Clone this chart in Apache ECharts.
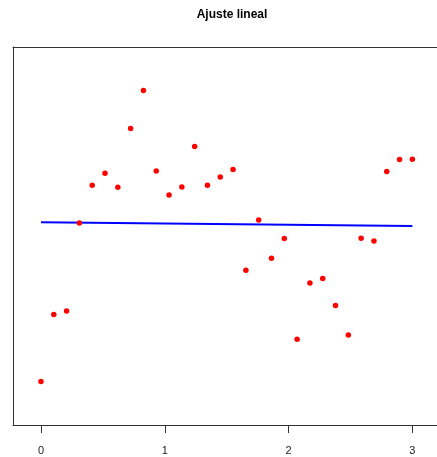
<!DOCTYPE html>
<html>
<head>
<meta charset="utf-8">
<script src="https://cdn.jsdelivr.net/npm/echarts@6/dist/echarts.min.js"></script>
<style>html,body{margin:0;padding:0;background:#fff}#c{width:437px;height:457px}</style>
</head>
<body>
<div id="c"></div>
<script>
const title = "Ajuste lineal";
const nPoints = 30;
const xStart = 0;
const xEnd = 3;
const yValues = [-1.456, -0.786, -0.750, 0.130, 0.507, 0.627, 0.487, 1.074, 1.454, 0.650,
                 0.410, 0.490, 0.894, 0.507, 0.590, 0.664, -0.343, 0.160, -0.223, -0.026,
                 -1.033, -0.470, -0.426, -0.696, -0.990, -0.023, -0.050, 0.644, 0.764, 0.767];
const xTicks = [0, 1, 2, 3];

// x = seq(0, 3, length = 30)
const xValues = yValues.map((_, i) => xStart + (xEnd - xStart) * i / (nPoints - 1));
const points = xValues.map((x, i) => [x, yValues[i]]);

// least-squares fit
const mx = xValues.reduce((a, b) => a + b, 0) / nPoints;
const my = yValues.reduce((a, b) => a + b, 0) / nPoints;
let sxy = 0, sxx = 0;
for (let i = 0; i < nPoints; i++) { sxy += (xValues[i] - mx) * (yValues[i] - my); sxx += (xValues[i] - mx) ** 2; }
const slope = sxy / sxx, intercept = my - slope * mx;
const fitLine = [[xStart, intercept + slope * xStart], [xEnd, intercept + slope * xEnd]];

const boxLine = {show: true, onZero: false, lineStyle: {color: '#333', width: 1}};

const chart = echarts.init(document.getElementById('c'), null, {renderer: 'canvas'});
chart.setOption({
  animation: false,
  backgroundColor: '#fff',
  title: {
    text: title, left: 227, top: 4, textAlign: 'center',
    textStyle: {fontFamily: 'Liberation Sans', fontSize: 12, fontWeight: 'bold', color: '#000'}
  },
  grid: {left: 13, top: 47, right: 0, bottom: 32, show: false},
  xAxis: [
    {
      type: 'value', position: 'bottom', min: -0.226, max: 3.199,
      axisLine: boxLine,
      splitLine: {show: false},
      axisTick: {show: true, customValues: xTicks, length: 8, lineStyle: {color: '#333', width: 1}},
      axisLabel: {show: true, customValues: xTicks, margin: 20, fontFamily: 'Liberation Sans', fontSize: 11, color: '#222',
        formatter: v => String(Math.round(v))}
    },
    {
      type: 'value', position: 'top', min: -0.226, max: 3.199,
      axisLine: boxLine, axisTick: {show: false}, axisLabel: {show: false}, splitLine: {show: false}
    }
  ],
  yAxis: {
    type: 'value', min: -1.89, max: 1.89, position: 'left',
    axisLine: boxLine, axisTick: {show: false}, axisLabel: {show: false}, splitLine: {show: false}
  },
  series: [
    {
      type: 'scatter', data: points, symbol: 'circle', symbolSize: 5.5,
      itemStyle: {color: '#ff0000', opacity: 1}, z: 3
    },
    {
      type: 'line', data: fitLine, showSymbol: false, symbol: 'none',
      lineStyle: {color: '#0000ff', width: 2}, z: 2
    }
  ]
});
</script>
</body>
</html>
